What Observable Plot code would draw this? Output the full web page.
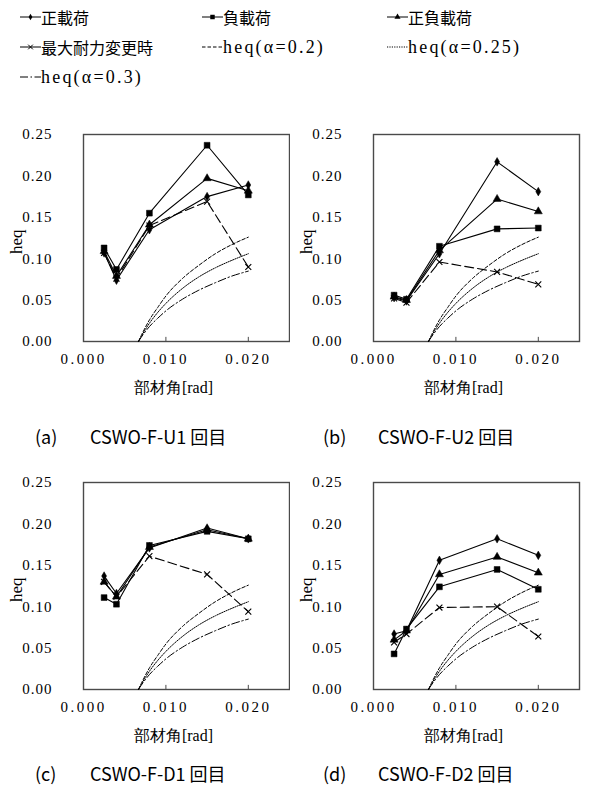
<!DOCTYPE html>
<html><head><meta charset="utf-8">
<script src="https://cdn.jsdelivr.net/npm/d3@7"></script>
<script src="https://cdn.jsdelivr.net/npm/@observablehq/plot@0.6"></script>
<style>
body{margin:0;background:#fff;width:605px;height:785px;position:relative;overflow:hidden;font-family:"Liberation Serif","Noto Sans CJK JP",serif;}
.leg{position:absolute;font-size:16px;line-height:20px;white-space:nowrap;color:#000;display:flex;align-items:center}
.leg .lat{font-family:"Liberation Serif","DejaVu Serif",serif;font-size:18px;letter-spacing:2.2px}
.leg .cjk{font-family:"Noto Sans CJK JP",sans-serif}
.cap{position:absolute;font-family:"Noto Sans CJK JP",sans-serif;font-size:18px;line-height:20px;white-space:pre;color:#000}
.pan{position:absolute}
.pan text{font-family:"Liberation Serif","DejaVu Serif",serif}
.pan text.cj{font-family:"Noto Sans CJK JP",sans-serif}
.pan g[aria-label="x-axis tick label"] text{letter-spacing:2.5px}
.pan g[aria-label="y-axis tick label"] text{letter-spacing:1px}
</style></head><body>
<script>
// ---- data ----
const angles = [0.0025, 0.004, 0.008, 0.015, 0.020];
const seriesNames = ["正載荷", "負載荷", "正負載荷", "最大耐力変更時"];
// panel (a) CSWO-F-U1
const a_pos  = [0.107, 0.074, 0.135, 0.175, 0.189];
const a_neg  = [0.113, 0.087, 0.155, 0.237, 0.177];
const a_both = [0.109, 0.079, 0.141, 0.197, 0.182];
const a_max  = [0.107, 0.076, 0.140, 0.169, 0.090];
// panel (b) CSWO-F-U2
const b_pos  = [0.053, 0.049, 0.106, 0.217, 0.181];
const b_neg  = [0.056, 0.051, 0.115, 0.136, 0.137];
const b_both = [0.054, 0.050, 0.110, 0.172, 0.157];
const b_max  = [0.052, 0.047, 0.096, 0.084, 0.069];
// panel (c) CSWO-F-D1
const c_pos  = [0.137, 0.116, 0.171, 0.195, 0.182];
const c_neg  = [0.111, 0.103, 0.174, 0.191, 0.182];
const c_both = [0.130, 0.112, 0.172, 0.193, 0.182];
const c_max  = [0.130, 0.112, 0.161, 0.139, 0.094];
// panel (d) CSWO-F-D2
const d_pos  = [0.067, 0.071, 0.156, 0.182, 0.162];
const d_neg  = [0.043, 0.073, 0.124, 0.145, 0.121];
const d_both = [0.060, 0.071, 0.139, 0.160, 0.141];
const d_max  = [0.057, 0.067, 0.099, 0.100, 0.064];
// heq curves
const heqAngles = [0.00667, 0.007, 0.008, 0.009, 0.010, 0.012, 0.014, 0.016, 0.018, 0.020];
const heq02  = [0, 0.007, 0.026, 0.041, 0.055, 0.076, 0.092, 0.106, 0.117, 0.126];
const heq025 = [0, 0.006, 0.022, 0.035, 0.046, 0.064, 0.078, 0.089, 0.098, 0.106];
const heq03  = [0, 0.005, 0.018, 0.028, 0.037, 0.051, 0.062, 0.071, 0.079, 0.085];
const heqNames = ["heq(α=0.2)", "heq(α=0.25)", "heq(α=0.3)"];
const xTicks = [0, 0.010, 0.020];
const yTicks = [0, 0.05, 0.10, 0.15, 0.20, 0.25];
const captionLabels = ["(a)", "(b)", "(c)", "(d)"];
const captionNames = ["CSWO-F-U1 回目", "CSWO-F-U2 回目", "CSWO-F-D1 回目", "CSWO-F-D2 回目"];
const xLabel = "部材角[rad]";
const yLabel = "heq";

// ---- styles ----
const seriesStyle = [
  {symbol: "diamond", r: 2.6, fill: "black", dash: null},
  {symbol: "square", r: 3.3, fill: "black", dash: null},
  {symbol: "triangle", r: 3.0, fill: "black", dash: null},
  {symbol: "times", r: 2.8, fill: "none", dash: "9,4"}
];
const heqDash = ["3.5,2", "1.2,1.2", "8,2.5,1.5,2.5"];

function panel(vals) {
  const marks = [
    Plot.frame({stroke: "#4a4a4a", strokeWidth: 1.4}),
    Plot.ruleX(xTicks.slice(1), {x: d => d, y1: 0, y2: 0.005, stroke: "#4a4a4a"}),
    Plot.axisX({ticks: xTicks, tickSize: 0, tickPadding: 12, tickFormat: d3.format(".3f"), label: null, fontSize: 15}),
    Plot.axisY({ticks: yTicks, tickSize: 0, tickPadding: 31, tickFormat: d3.format(".2f"), label: null, fontSize: 15}),
    Plot.text([xLabel], {text: d => d, frameAnchor: "bottom", dy: 46, dx: -13, fontSize: 16, lineAnchor: "middle", className: "cj"}),
    Plot.text([yLabel], {text: d => d, frameAnchor: "left", dx: -67, dy: 16, rotate: -90, fontSize: 17, lineAnchor: "middle"})
  ];
  [heq02, heq025, heq03].forEach((h, k) => {
    const rows = heqAngles.map((x, j) => ({x, y: h[j]}));
    marks.push(Plot.line(rows, {x: "x", y: "y", curve: "monotone-x", stroke: "black", strokeWidth: 1, strokeDasharray: heqDash[k]}));
  });
  vals.forEach((v, i) => {
    const st = seriesStyle[i];
    const rows = angles.map((x, j) => ({x, y: v[j], s: seriesNames[i]}));
    marks.push(Plot.line(rows, {x: "x", y: "y", stroke: "black", strokeWidth: 1.1, strokeDasharray: st.dash}));
    marks.push(Plot.dot(rows, {x: "x", y: "y", symbol: st.symbol, r: st.r, fill: st.fill, stroke: "black", strokeWidth: st.fill === "none" ? 1.1 : 0.5}));
  });
  return Plot.plot({
    width: 300, height: 300, marginLeft: 83, marginRight: 11, marginTop: 34, marginBottom: 59,
    x: {domain: [0, 0.025]}, y: {domain: [0, 0.25]},
    style: {fontSize: "15px", color: "#000", background: "#fff", overflow: "visible"},
    marks
  });
}

const panelVals = [
  [a_pos, a_neg, a_both, a_max],
  [b_pos, b_neg, b_both, b_max],
  [c_pos, c_neg, c_both, c_max],
  [d_pos, d_neg, d_both, d_max]
];
const panelPos = [[0, 100], [290, 100], [0, 448], [290, 448]];
const capPos = [[35, 426, 90], [323, 426, 378], [35, 763, 90], [323, 763, 378]];

panelVals.forEach((v, i) => {
  const div = document.createElement("div");
  div.className = "pan";
  div.style.left = panelPos[i][0] + "px";
  div.style.top = panelPos[i][1] + "px";
  div.appendChild(panel(v));
  document.body.appendChild(div);
  const c1 = document.createElement("div");
  c1.className = "cap";
  c1.style.left = capPos[i][0] + "px";
  c1.style.top = capPos[i][1] + "px";
  c1.textContent = captionLabels[i];
  document.body.appendChild(c1);
  const c2 = document.createElement("div");
  c2.className = "cap";
  c2.style.left = capPos[i][2] + "px";
  c2.style.top = capPos[i][1] + "px";
  c2.textContent = captionNames[i];
  document.body.appendChild(c2);
});

// ---- legend ----
const NS = "http://www.w3.org/2000/svg";
function swatch(kind, idx) {
  const svg = document.createElementNS(NS, "svg");
  svg.setAttribute("width", 21); svg.setAttribute("height", 12);
  const ln = document.createElementNS(NS, "line");
  ln.setAttribute("x1", 0); ln.setAttribute("x2", 21); ln.setAttribute("y1", 6); ln.setAttribute("y2", 6);
  ln.setAttribute("stroke", "black"); ln.setAttribute("stroke-width", 1);
  if (kind === "heq") ln.setAttribute("stroke-dasharray", heqDash[idx]);
  svg.appendChild(ln);
  if (kind === "s") {
    const p = document.createElementNS(NS, "path");
    const sym = [d3.symbolDiamond, d3.symbolSquare, d3.symbolTriangle, d3.symbolTimes][idx];
    const size = [12, 20, 16, 16][idx];
    p.setAttribute("d", d3.symbol(sym, size)());
    p.setAttribute("transform", "translate(10.5,6)");
    if (idx === 3) { p.setAttribute("fill", "none"); p.setAttribute("stroke", "black"); p.setAttribute("stroke-width", 1); }
    else p.setAttribute("fill", "black");
    svg.appendChild(p);
  }
  return svg;
}
const legendItems = [
  {kind: "s", idx: 0, text: seriesNames[0], x: 20, y: 7},
  {kind: "s", idx: 1, text: seriesNames[1], x: 202, y: 7},
  {kind: "s", idx: 2, text: seriesNames[2], x: 387, y: 7},
  {kind: "s", idx: 3, text: seriesNames[3], x: 20, y: 37},
  {kind: "heq", idx: 0, text: heqNames[0], x: 202, y: 37},
  {kind: "heq", idx: 1, text: heqNames[1], x: 387, y: 37},
  {kind: "heq", idx: 2, text: heqNames[2], x: 20, y: 67}
];
legendItems.forEach(it => {
  const d = document.createElement("div");
  d.className = "leg";
  d.style.left = it.x + "px"; d.style.top = it.y + "px";
  d.appendChild(swatch(it.kind, it.idx));
  const t = document.createElement("span");
  t.className = it.kind === "heq" ? "lat" : "cjk";
  t.textContent = it.text;
  d.appendChild(t);
  document.body.appendChild(d);
});
</script>
</body></html>
